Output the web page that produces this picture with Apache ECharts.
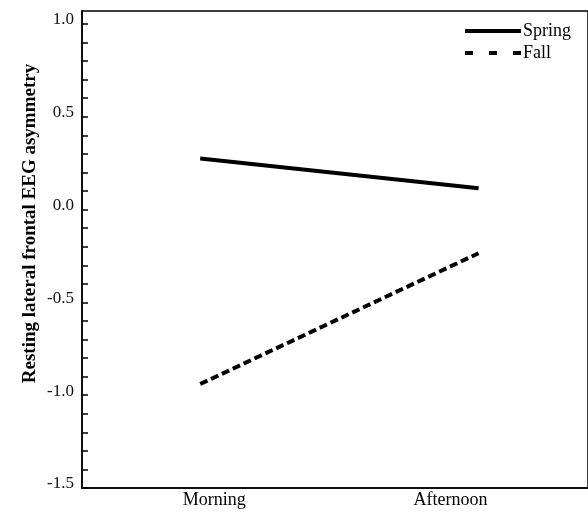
<!DOCTYPE html>
<html>
<head>
<meta charset="utf-8">
<script src="https://cdn.jsdelivr.net/npm/echarts@6/dist/echarts.min.js"></script>
<style>
  html, body { margin: 0; padding: 0; background: #fff; }
  #chart { width: 588px; height: 517px; }
</style>
</head>
<body>
<div id="chart"></div>
<script>
const categories = ["Morning", "Afternoon"];
const springValues = [0.275, 0.115];
const fallValues = [-0.94, -0.235];
const yLabelValues = [-1.5, -1.0, -0.5, 0.0, 0.5, 1.0];
const yTickValues = [
  -1.5, -1.4, -1.3, -1.2, -1.1, -1.0, -0.9, -0.8, -0.7, -0.6,
  -0.5, -0.4, -0.3, -0.2, -0.1, 0.0, 0.1, 0.2, 0.3, 0.4,
  0.5, 0.6, 0.7, 0.8, 0.9, 1.0
];

const serif = "'Liberation Serif', 'DejaVu Serif', serif";

function pairs(values) {
  return values.map((v, i) => [i, v]);
}

const chart = echarts.init(document.getElementById("chart"), null, { renderer: "canvas" });

chart.setOption({
  animation: false,
  backgroundColor: "#fff",
  grid: {
    left: 82, top: 11, right: -12, bottom: 29,
    show: true, borderColor: "#000", borderWidth: 1.5,
    containLabel: false
  },
  legend: {
    orient: "vertical",
    left: 463, top: 22,
    padding: 0,
    itemWidth: 56, itemHeight: 14, itemGap: 4,
    itemStyle: { opacity: 0 },
    textStyle: { fontFamily: serif, fontSize: 18, color: "#000", padding: [0, 0, 0, -3] },
    data: [
      { name: "Spring", lineStyle: { width: 4, type: "solid" } },
      { name: "Fall", lineStyle: { width: 4, type: [8, 16] } }
    ]
  },
  xAxis: {
    type: "value",
    min: -0.4246,
    max: 1.393,
    splitLine: { show: false },
    axisTick: { show: false },
    axisLine: { onZero: false, lineStyle: { color: "#000", width: 1.5 } },
    axisLabel: {
      customValues: [0, 1],
      margin: 3,
      formatter: (v) => {
        const name = categories[Math.round(v)];
        return Math.round(v) === 0 ? "{m|" + name + "}" : "{a|" + name + "}";
      },
      rich: {
        m: { fontFamily: serif, fontSize: 18, color: "#000", padding: [0, 0, 0, 28] },
        a: { fontFamily: serif, fontSize: 18, color: "#000", padding: [0, 56, 0, 0] }
      }
    }
  },
  yAxis: {
    type: "value",
    min: -1.5,
    max: 1.07,
    name: "Resting lateral frontal EEG asymmetry",
    nameLocation: "middle",
    nameGap: 42,
    nameMoveOverlap: false,
    nameTextStyle: {
      fontFamily: serif, fontSize: 19, fontWeight: "bold", color: "#000",
      padding: [0, 0, 0, 52]
    },
    splitLine: { show: false },
    axisLine: { show: true, onZero: false, lineStyle: { color: "#000", width: 1.5 } },
    axisTick: {
      show: true, inside: true, length: 6,
      customValues: yTickValues,
      lineStyle: { color: "#000", width: 1.5 }
    },
    axisLabel: {
      customValues: yLabelValues,
      margin: 8,
      verticalAlign: "bottom",
      lineHeight: 8,
      fontFamily: serif, fontSize: 17, color: "#111",
      formatter: (v) => v.toFixed(1)
    }
  },
  series: [
    {
      name: "Spring",
      type: "line",
      symbol: "none",
      data: pairs(springValues),
      lineStyle: { color: "#000", width: 4, type: "solid" },
      itemStyle: { color: "#000" }
    },
    {
      name: "Fall",
      type: "line",
      symbol: "none",
      data: pairs(fallValues),
      lineStyle: { color: "#000", width: 4, type: [8, 4] },
      itemStyle: { color: "#000" }
    }
  ]
});
</script>
</body>
</html>
